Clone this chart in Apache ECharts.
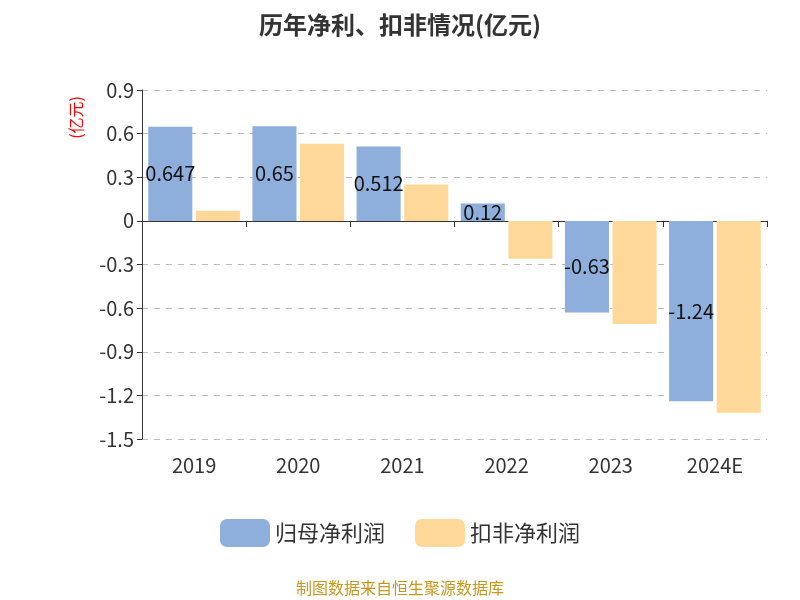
<!DOCTYPE html><html><head><meta charset="utf-8"><script src="https://cdn.jsdelivr.net/npm/echarts@6/dist/echarts.min.js"></script></head><body style="margin:0"><div id="c" style="width:800px;height:600px"></div><script>
const categories=['2019','2020','2021','2022','2023','2024E'];
const netProfit=[0.647,0.65,0.512,0.12,-0.63,-1.24];
const deductedProfit=[0.07,0.53,0.25,-0.26,-0.71,-1.32];
const font='"Noto Sans CJK SC","Noto Sans",sans-serif';
const c=echarts.init(document.getElementById('c'));
c.setOption({
textStyle:{fontFamily:font},
title:{text:'历年净利、扣非情况(亿元)',left:'center',top:8,textStyle:{fontSize:24,fontWeight:'bold',color:'#333',fontFamily:font}},
grid:{left:142,right:33,top:90,bottom:161},
legend:{bottom:48,itemWidth:50,itemHeight:28,itemGap:30,textStyle:{fontSize:22,color:'#333'},data:['归母净利润','扣非净利润']},
graphic:[{type:'text',left:68,top:96,rotation:Math.PI/2,style:{text:'(亿元)',fill:'red',fontSize:16,fontFamily:font}},
{type:'text',left:'center',bottom:4,style:{text:'制图数据来自恒生聚源数据库',fill:'#c8961e',fontSize:16,fontFamily:font}}],
xAxis:[{type:'category',data:categories,position:'bottom',axisLine:{show:false},axisTick:{show:false},axisLabel:{fontSize:20,color:'#333',margin:16}},
{type:'category',data:categories,position:'bottom',axisLine:{onZero:true,onZeroAxisIndex:0,lineStyle:{color:'#333'}},axisTick:{show:true,length:6,inside:false},axisLabel:{show:false}}],
yAxis:{type:'value',min:-1.5,max:0.9,interval:0.3,axisLine:{show:true,lineStyle:{color:'#333'}},axisTick:{show:true},axisLabel:{fontSize:20,color:'#333',formatter:v=>String(Math.round(v*10)/10)},splitLine:{lineStyle:{type:[6,6],color:'#bbb'}}},
series:[{name:'归母净利润',type:'bar',data:netProfit,barGap:'8%',barCategoryGap:'12%',itemStyle:{color:'#8eaedb'},label:{show:true,position:'inside',color:'#111',fontSize:20}},
{name:'扣非净利润',type:'bar',data:deductedProfit,itemStyle:{color:'#fed898'}}]
});
</script></body></html>
